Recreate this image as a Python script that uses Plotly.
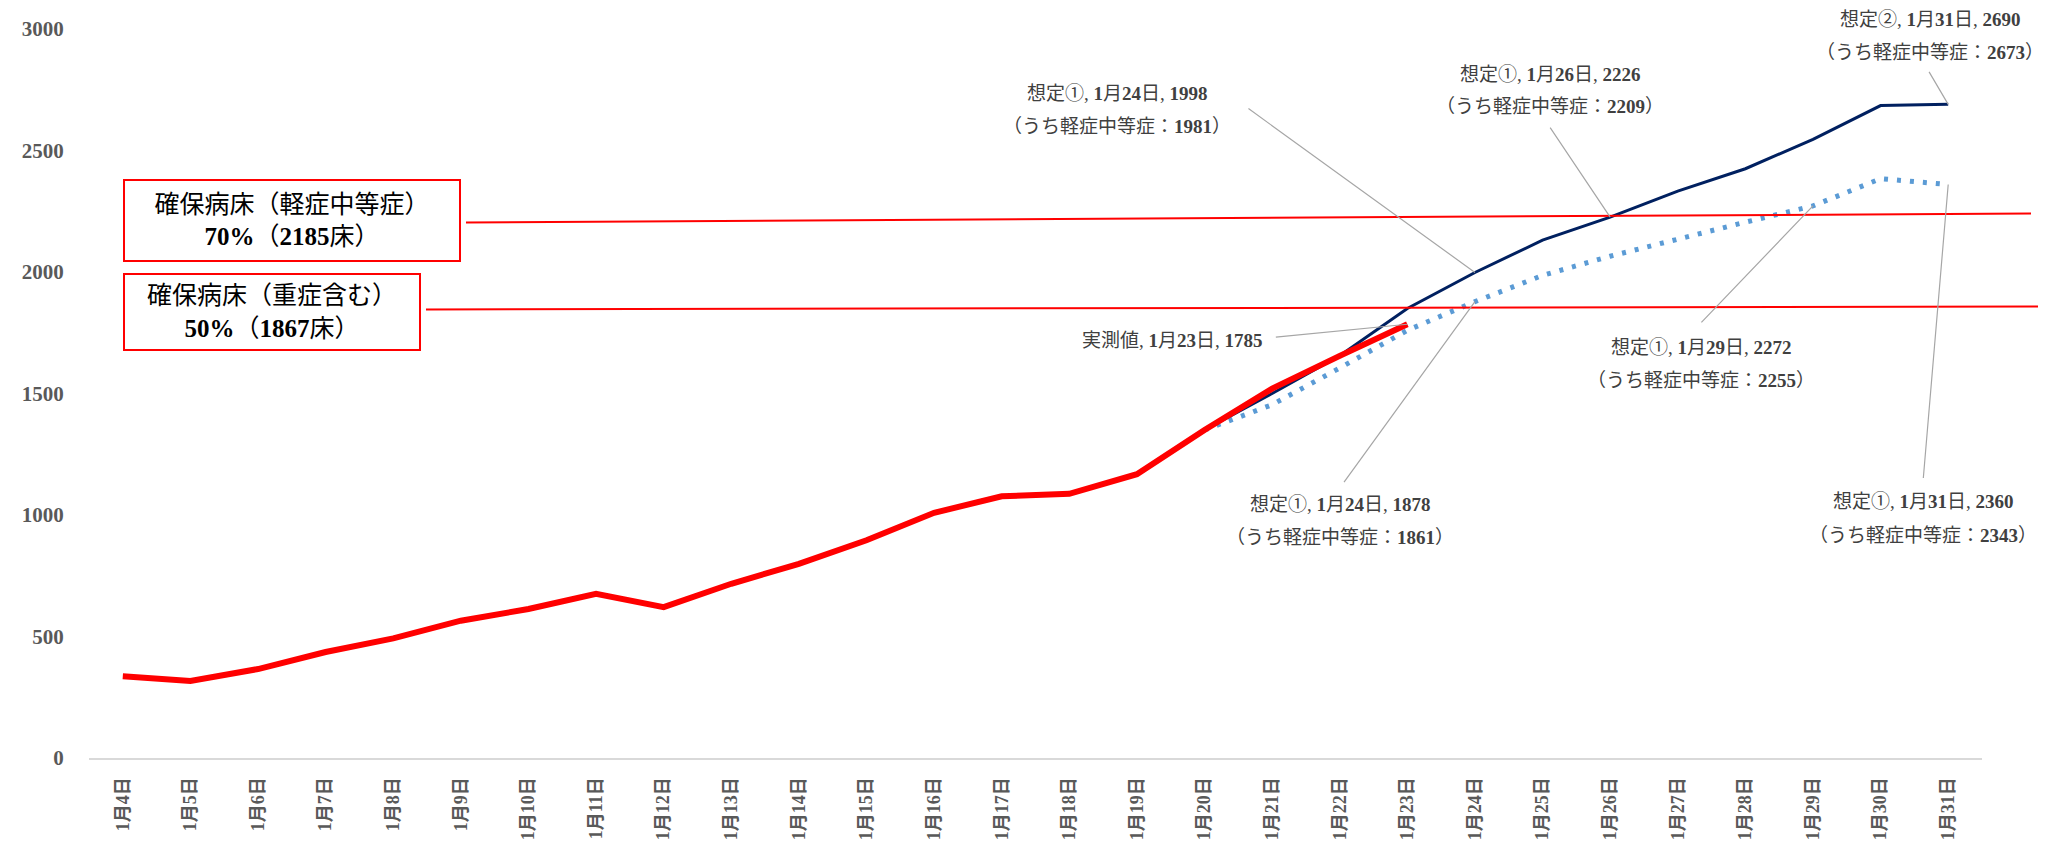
import re
import plotly.graph_objects as go

# ---------------- data ----------------
dates = ["1月4日", "1月5日", "1月6日", "1月7日", "1月8日", "1月9日", "1月10日",
         "1月11日", "1月12日", "1月13日", "1月14日", "1月15日", "1月16日",
         "1月17日", "1月18日", "1月19日", "1月20日", "1月21日", "1月22日",
         "1月23日", "1月24日", "1月25日", "1月26日", "1月27日", "1月28日",
         "1月29日", "1月30日", "1月31日"]

actual_dates = dates[:20]
actual = [336, 317, 366, 436, 492, 565, 613, 676, 621, 717, 799, 896, 1009,
          1077, 1087, 1168, 1350, 1520, 1655, 1785]

scen_dates = dates[16:]
scen2 = [1350, 1500, 1655, 1850, 1998, 2131, 2226, 2333, 2425, 2546, 2685, 2690]
scen1 = [1350, 1454, 1605, 1760, 1878, 1986, 2065, 2137, 2205, 2272, 2384, 2360]

cap70_label = ["確保病床（軽症中等症）", "70%（2185床）"]
cap50_label = ["確保病床（重症含む）", "50%（1867床）"]

# ---------------- geometry (screen pixels; page body has an 8px margin) ----------------
OFF = 8
FIG_W, FIG_H = 2044, 833
PLOT_L, PLOT_R, PLOT_T, PLOT_B = 89, 1982, 29, 758   # screen coords of plot area
M_L = PLOT_L - OFF
M_T = PLOT_T - OFF
M_R = FIG_W - (PLOT_R - OFF)
M_B = FIG_H - (PLOT_B - OFF)
PW = PLOT_R - PLOT_L
PH = PLOT_B - PLOT_T


def px(x):
    return (x - PLOT_L) / PW


def py(y):
    return (PLOT_B - y) / PH


def bold_digits(s):
    return re.sub(r"(\d+%?)", r"<b>\1</b>", s)


SERIF = "Liberation Serif, Noto Sans CJK JP"
TXT = "#404040"
AX = "#595959"

fig = go.Figure()
fig.add_trace(go.Scatter(x=scen_dates, y=scen1, mode="lines", name="想定①",
                         line=dict(color="#5B9BD5", width=5, dash="4px,9px")))
fig.add_trace(go.Scatter(x=scen_dates, y=scen2, mode="lines", name="想定②",
                         line=dict(color="#002060", width=3)))
fig.add_trace(go.Scatter(x=actual_dates, y=actual, mode="lines", name="実測値",
                         line=dict(color="#FF0000", width=6)))

annotations = []

# leader lines (from label to data point)
leaders = [
    (scen_dates[11], scen2[11], -20, -34),
    (scen_dates[6], scen2[6], -61, -91),
    (scen_dates[4], scen2[4], -228, -165),
    (actual_dates[19], actual[19], -133, 13),
    (scen_dates[9], scen1[9], -113, 118),
    (scen_dates[4], scen1[4], -132, 182),
    (scen_dates[11], scen1[11], -25, 295),
]
for xv, yv, ax, ay in leaders:
    annotations.append(dict(x=xv, y=yv, xref="x", yref="y", text="",
                            showarrow=True, arrowhead=0, arrowwidth=1.2,
                            arrowcolor="#A6A6A6", ax=ax, ay=ay, standoff=0,
                            startstandoff=0))

labels = [
    (["想定②, 1月31日, 2690", "（うち軽症中等症：2673）"], 1930, 20, 52, "center"),
    (["想定①, 1月26日, 2226", "（うち軽症中等症：2209）"], 1550, 74, 107, "center"),
    (["想定①, 1月24日, 1998", "（うち軽症中等症：1981）"], 1117, 93, 127, "center"),
    (["実測値, 1月23日, 1785"], 1265, 340, None, "right"),
    (["想定①, 1月29日, 2272", "（うち軽症中等症：2255）"], 1701, 347, 380, "center"),
    (["想定①, 1月24日, 1878", "（うち軽症中等症：1861）"], 1340, 504, 537, "center"),
    (["想定①, 1月31日, 2360", "（うち軽症中等症：2343）"], 1923, 501, 535, "center"),
]
for lines, cx, y1, y2, anchor in labels:
    for t, yy in zip(lines, [y1, y2]):
        annotations.append(dict(x=px(cx), y=py(yy), xref="paper", yref="paper",
                                text=bold_digits(t), showarrow=False,
                                xanchor=anchor, yanchor="middle",
                                font=dict(family=SERIF, size=19, color=TXT)))

# capacity boxes
boxes = [
    (cap70_label, 123, 461, 179, 262),
    (cap50_label, 123, 421, 273, 351),
]
for lab, x0, x1, y0, y1 in boxes:
    txt = lab[0] + "<br>" + bold_digits(lab[1])
    annotations.append(dict(x=px((x0 + x1) / 2), y=py((y0 + y1) / 2),
                            xref="paper", yref="paper", text=txt,
                            showarrow=False, xanchor="center", yanchor="middle",
                            width=x1 - x0 - 4, height=y1 - y0 - 4,
                            bordercolor="#FF0000", borderwidth=2, borderpad=0,
                            bgcolor="white", align="center",
                            font=dict(family=SERIF, size=25, color="black")))

shapes = [
    dict(type="line", xref="paper", yref="y", x0=px(466), x1=px(2031),
         y0=2204, y1=2241, line=dict(color="#FF0000", width=2)),
    dict(type="line", xref="paper", yref="y", x0=px(426), x1=px(2038),
         y0=1846, y1=1858, line=dict(color="#FF0000", width=2)),
]

fig.update_layout(
    width=FIG_W, height=FIG_H,
    margin=dict(l=M_L, r=M_R, t=M_T, b=M_B, autoexpand=False),
    paper_bgcolor="white", plot_bgcolor="white",
    showlegend=False,
    annotations=annotations,
    shapes=shapes,
    xaxis=dict(type="category", categoryorder="array", categoryarray=dates,
               range=[-0.5, len(dates) - 0.5], showgrid=False, zeroline=False,
               automargin=False,
               showline=True, linecolor="#D9D9D9", linewidth=2,
               ticks="outside", ticklen=10, tickcolor="rgba(0,0,0,0)",
               tickangle=-90,
               tickfont=dict(family=SERIF, size=18, color=AX, weight="bold")),
    yaxis=dict(range=[0, 3000], dtick=500, showgrid=False, zeroline=False,
               automargin=False,
               showline=False, ticks="outside", ticklen=20,
               tickcolor="rgba(0,0,0,0)",
               tickfont=dict(family=SERIF, size=21, color=AX, weight="bold")),
)

fig.write_html("out.html")
